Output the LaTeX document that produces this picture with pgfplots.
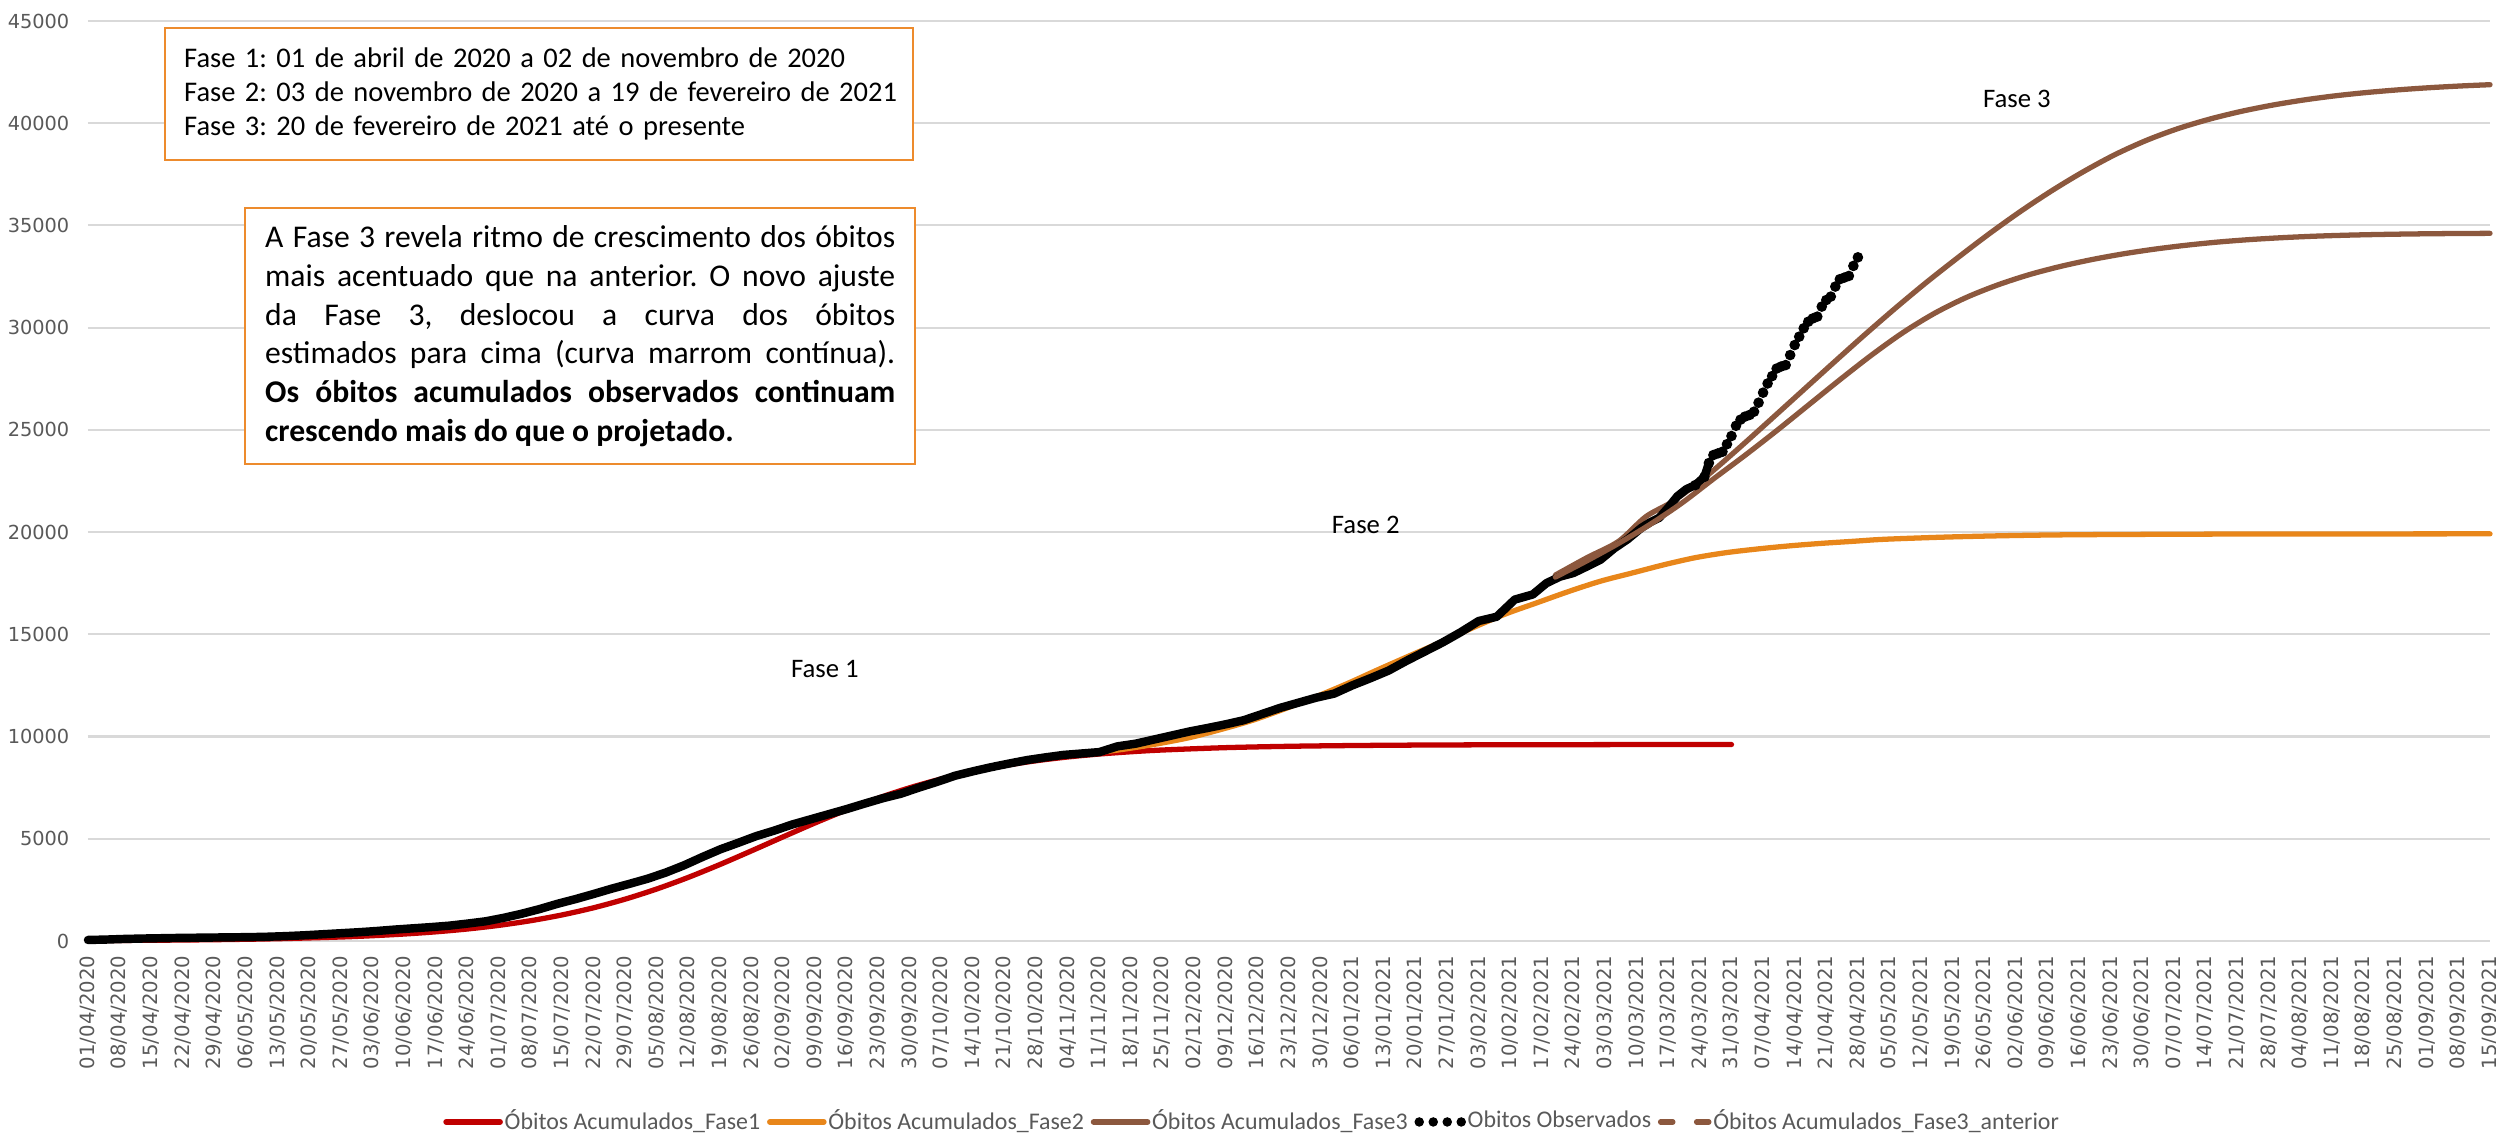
\documentclass[border=0pt]{standalone}
\usepackage{pgfplots}
\usepackage{pgfplotstable}
\pgfplotsset{compat=1.18}
\usepackage{fontspec}
\setmainfont{Carlito}
\newfontfamily\tickfont{DejaVu Sans}

\definecolor{cRed}{RGB}{192,0,0}
\definecolor{cOrange}{RGB}{232,134,26}
\definecolor{cBrown}{RGB}{140,88,62}
\definecolor{cGrid}{RGB}{217,217,217}
\definecolor{cTick}{RGB}{89,89,89}
\definecolor{cBox}{RGB}{237,139,45}

% day index: 0 = 01/04/2020
\pgfplotstableread{
d v
0 20
14 36
28 63
42 111
56 195
63 258
70 340
77 447
84 586
91 764
98 991
105 1275
112 1626
119 2049
126 2546
133 3115
140 3744
147 4414
154 5098
161 5772
168 6408
175 6987
182 7495
189 7928
196 8290
203 8582
210 8816
217 9001
224 9145
231 9256
238 9342
252 9457
266 9523
280 9560
294 9582
308 9594
336 9605
364 9610
}\fasei

\pgfplotstableread{
d v
216 9050
223 9200
230 9400
237 9650
244 9950
251 10350
258 10800
265 11350
272 11950
279 12600
286 13300
293 13980
300 14650
307 15350
314 16000
321 16550
328 17100
335 17600
342 18000
349 18400
356 18750
363 19000
370 19180
377 19330
384 19450
391 19550
398 19650
412 19760
426 19830
440 19870
468 19900
500 19910
532 19915
}\faseii

\pgfplotstableread{
d v
325 17900
332 18750
339 19550
345 20750
351 21500
358 22650
365 23980
372 25366
379 26766
386 28166
393 29552
400 30896
407 32184
414 33402
421 34578
428 35684
435 36706
442 37637
449 38470
456 39170
463 39744
470 40206
477 40584
484 40892
491 41144
498 41347
505 41508
512 41638
519 41743
526 41827
532 41884
}\faseiii

\pgfplotstableread{
d v
325 17800
332 18600
339 19450
346 20380
353 21420
360 22600
367 23755
374 24959
381 26205
388 27451
395 28655
402 29761
409 30706
416 31476
423 32092
430 32596
437 33002
444 33338
451 33618
458 33849
465 34038
472 34192
479 34311
486 34402
493 34472
500 34521
507 34556
514 34581
521 34598
528 34609
532 34613
}\faseiiiant

\pgfplotstableread{
d v
0 50
4 70
8 100
12 120
16 135
20 150
24 160
28 170
32 180
36 190
40 210
44 240
48 280
52 330
56 380
60 430
64 490
68 560
72 620
76 680
80 750
84 850
88 960
92 1130
96 1330
100 1560
104 1820
108 2050
112 2300
116 2560
120 2800
124 3050
128 3350
132 3700
136 4100
140 4480
144 4800
148 5130
152 5400
156 5700
160 5950
164 6200
168 6450
172 6720
176 6980
180 7200
184 7500
188 7780
192 8080
196 8300
200 8500
204 8680
208 8850
212 8980
216 9100
220 9170
224 9240
228 9520
232 9650
236 9850
240 10050
244 10250
248 10420
252 10600
256 10800
260 11100
264 11400
268 11650
272 11900
276 12100
280 12500
284 12850
288 13220
292 13700
296 14150
300 14600
304 15100
308 15650
312 15860
316 16700
320 16950
323 17500
326 17820
329 18000
332 18320
335 18650
338 19200
341 19650
344 20200
346 20480
348 20700
350 21200
352 21750
354 22100
356 22300
358 22700
359 23380
360 23770
361 23850
362 23930
363 24300
364 24700
365 25200
366 25500
367 25650
368 25730
369 25890
370 26330
371 26820
372 27270
373 27630
374 28000
375 28100
376 28170
377 28660
378 29150
379 29560
380 29970
381 30290
382 30450
383 30540
384 31030
385 31350
386 31520
387 32010
388 32370
389 32450
390 32530
391 33020
392 33440
}\obs

\begin{document}
\frenchspacing
\begin{tikzpicture}
\begin{axis}[
  width=24.02cm, height=9.2cm, scale only axis,
  xmin=0, xmax=532, ymin=0, ymax=45000,
  clip=false,
  axis line style={draw=none},
  major tick length=0pt,
  ymajorgrids, grid style={cGrid, line width=0.6pt},
  xtick={0,7,...,532},
  xticklabels={01/04/2020,08/04/2020,15/04/2020,22/04/2020,29/04/2020,06/05/2020,13/05/2020,20/05/2020,27/05/2020,03/06/2020,10/06/2020,17/06/2020,24/06/2020,01/07/2020,08/07/2020,15/07/2020,22/07/2020,29/07/2020,05/08/2020,12/08/2020,19/08/2020,26/08/2020,02/09/2020,09/09/2020,16/09/2020,23/09/2020,30/09/2020,07/10/2020,14/10/2020,21/10/2020,28/10/2020,04/11/2020,11/11/2020,18/11/2020,25/11/2020,02/12/2020,09/12/2020,16/12/2020,23/12/2020,30/12/2020,06/01/2021,13/01/2021,20/01/2021,27/01/2021,03/02/2021,10/02/2021,17/02/2021,24/02/2021,03/03/2021,10/03/2021,17/03/2021,24/03/2021,31/03/2021,07/04/2021,14/04/2021,21/04/2021,28/04/2021,05/05/2021,12/05/2021,19/05/2021,26/05/2021,02/06/2021,09/06/2021,16/06/2021,23/06/2021,30/06/2021,07/07/2021,14/07/2021,21/07/2021,28/07/2021,04/08/2021,11/08/2021,18/08/2021,25/08/2021,01/09/2021,08/09/2021,15/09/2021},
  xticklabel style={rotate=90, anchor=east, inner sep=0pt, font=\tickfont\fontsize{5.6}{6}\selectfont, text=cTick},
  xticklabel shift=0.14cm,
  ytick={0,5000,...,45000},
  scaled y ticks=false,
  yticklabel style={anchor=east, inner sep=0pt, font=\tickfont\fontsize{5.5}{6}\selectfont, text=cTick},
  yticklabel shift=0.18cm,
  /pgf/number format/assume math mode=true,
  /pgf/number format/1000 sep={},
  legend columns=-1,
  legend style={at={(0.4846,-0.1967)}, anchor=center, draw=none, fill=none,
    font=\fontsize{6.8}{8}\selectfont, text=cTick, inner sep=0pt,
    /tikz/every even column/.append style={column sep=0.05cm},
    nodes={inner sep=0.5pt}},
]
\addplot[cRed, line width=1.5pt, smooth, line cap=round,
  legend image code/.code={\draw[cRed, line width=1.6pt, line cap=round] (0cm,0cm) -- (0.54cm,0cm);}]
  table[x=d,y=v] {\fasei};
\addlegendentry{Óbitos Acumulados\_Fase1}
\addplot[cOrange, line width=1.5pt, smooth, line cap=round,
  legend image code/.code={\draw[cOrange, line width=1.6pt, line cap=round] (0cm,0cm) -- (0.54cm,0cm);}]
  table[x=d,y=v] {\faseii};
\addlegendentry{Óbitos Acumulados\_Fase2}
\addplot[cBrown, line width=1.5pt, smooth, line cap=round,
  legend image code/.code={\draw[cBrown, line width=1.6pt, line cap=round] (0cm,0cm) -- (0.54cm,0cm);}]
  table[x=d,y=v] {\faseiii};
\addlegendentry{Óbitos Acumulados\_Fase3}
\addplot[black, line width=2.4pt, line join=round, line cap=round, forget plot,
  restrict x to domain=0:359] table[x=d,y=v] {\obs};
\addplot[only marks, mark=*, mark size=1.3pt, black, restrict x to domain=356:400,
  legend image code/.code={\foreach \p in {0.05,0.19,0.33,0.47} {\fill[black] (\p cm,0cm) circle (0.04cm);}}]
  table[x=d,y=v] {\obs};
\addlegendentry{Obitos Observados}
\addplot[cBrown, line width=1.5pt, smooth, line cap=round,
  legend image code/.code={\draw[cBrown, line width=1.6pt, line cap=round] (0.03cm,0cm) -- (0.15cm,0cm); \draw[cBrown, line width=1.6pt, line cap=round] (0.39cm,0cm) -- (0.51cm,0cm);}]
  table[x=d,y=v] {\faseiiiant};
\addlegendentry{Óbitos Acumulados\_Fase3\_anterior}

\node[font=\fontsize{7.6}{9}\selectfont] at (axis cs:163.2,13300) {Fase 1};
\node[font=\fontsize{7.6}{9}\selectfont] at (axis cs:283,20350) {Fase 2};
\node[font=\fontsize{7.6}{9}\selectfont] at (axis cs:427.2,41180) {Fase 3};

\node[draw=cBox, line width=0.7pt, fill=white, anchor=north west, minimum height=1.32cm,
  inner xsep=0.19cm, text width=7.10cm, align=left, font=\fontsize{8.1}{9.7}\selectfont]
  at (axis cs:16.83,44706)
  {\mbox{Fase 1: 01 de abril de 2020 a 02 de novembro de 2020}\\
   \mbox{Fase 2: 03 de novembro de 2020 a 19 de fevereiro de 2021}\\
   \mbox{Fase 3: 20 de fevereiro de 2021 até o presente}};

\node[draw=cBox, line width=0.7pt, fill=white, anchor=north west, minimum height=2.56cm,
  inner xsep=0.2cm, text width=6.30cm, align=justify, font=\fontsize{9.0}{11}\selectfont]
  at (axis cs:34.55,35902)
  {A Fase 3 revela ritmo de crescimento dos óbitos\linebreak
   mais acentuado que na anterior. O novo ajuste\linebreak
   da Fase 3, deslocou a curva dos óbitos\linebreak
   estimados para cima (curva marrom contínua).\linebreak
   \textbf{Os óbitos acumulados observados continuam\linebreak
   crescendo mais do que o projetado.}};
\end{axis}
\pgfresetboundingbox
\path[use as bounding box] (-0.88cm,-1.97cm) rectangle (24.08cm,9.41cm);
\end{tikzpicture}
\end{document}
